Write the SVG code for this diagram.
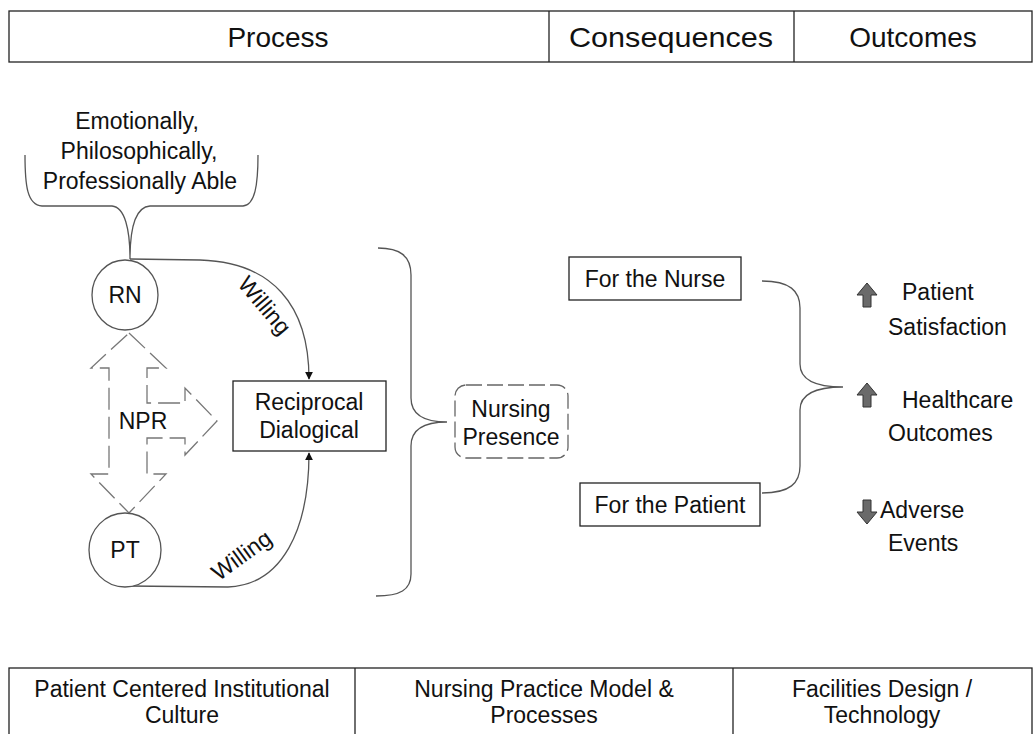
<svg xmlns="http://www.w3.org/2000/svg" width="1034" height="734" viewBox="0 0 1034 734">
<defs>
<style>
text{font-family:"Liberation Sans",Arial,sans-serif;fill:#111}
.hdr{font-size:28px;text-anchor:middle}
.bot{font-size:23px;text-anchor:middle}
.t{font-size:23px;text-anchor:middle}
.tl{font-size:23px}
.box{fill:#fff;stroke:#222;stroke-width:1.3}
.ln{fill:none;stroke:#555;stroke-width:1.3}
.circ{fill:#fff;stroke:#555;stroke-width:1.3}
.icon{fill:#6a6a6a;stroke:#333;stroke-width:1}
</style>
<marker id="ah" viewBox="0 0 10 10" refX="9" refY="5" markerWidth="8" markerHeight="8" markerUnits="userSpaceOnUse" orient="auto">
<path d="M0,0 L10,5 L0,10 z" fill="#111"/>
</marker>
</defs>
<rect width="1034" height="734" fill="#fff"/>

<g id="header">
<rect x="9" y="11" width="1023" height="51" class="box" fill="none"/>
<line x1="549" y1="11" x2="549" y2="62" stroke="#222" stroke-width="1.3"/>
<line x1="794" y1="11" x2="794" y2="62" stroke="#222" stroke-width="1.3"/>
<text class="hdr" x="278" y="47">Process</text>
<text class="hdr" x="671" y="47" textLength="204" lengthAdjust="spacingAndGlyphs">Consequences</text>
<text class="hdr" x="913" y="47">Outcomes</text>
</g>

<g id="footer">
<rect x="9" y="668" width="1023" height="70" class="box" fill="none"/>
<line x1="355" y1="668" x2="355" y2="734" stroke="#222" stroke-width="1.3"/>
<line x1="733" y1="668" x2="733" y2="734" stroke="#222" stroke-width="1.3"/>
<text class="bot" x="182" y="697">Patient Centered Institutional</text>
<text class="bot" x="182" y="723">Culture</text>
<text class="bot" x="544" y="697">Nursing Practice Model &amp;</text>
<text class="bot" x="544" y="723">Processes</text>
<text class="bot" x="882" y="697">Facilities Design /</text>
<text class="bot" x="882" y="723">Technology</text>
</g>

<g id="abilities">
<text class="t" x="137" y="129">Emotionally,</text>
<text class="t" x="139" y="159">Philosophically,</text>
<text class="t" x="140" y="189">Professionally Able</text>
<path class="ln" d="M25,155 C25,185 27,205 42,206 L112,206 C125,207 130,230 130,259 C130,230 135,207 150,206 L243,206 C255,205 258,185 258,155"/>
</g>

<g id="connectors">
<path class="ln" d="M130,259 L200,260 C272,262 309,305 309,379" marker-end="url(#ah)"/>
<path class="ln" d="M127,586 L228,587 C282,585 309,530 309,453" marker-end="url(#ah)"/>
<path class="ln" d="M378,248 C400,248 411,256 411,275 L411,398 C411,414 424,422 447,422 C424,422 411,430 411,446 L411,574 C411,590 400,596 376,596"/>
<path class="ln" d="M762,281 C790,281 800,291 800,308 L800,364 C800,379 815,387 843,387 C815,387 800,395 800,410 L800,466 C800,483 790,493 762,493"/>
<text class="tl" font-size="21" transform="translate(264,306) rotate(50)" text-anchor="middle" y="7">Willing</text>
<text class="tl" font-size="21" transform="translate(242,556) rotate(-36)" text-anchor="middle" y="7">Willing</text>
</g>

<g id="npr">
<polygon points="129,333 166,368 147,368 147,403 185,403 185,388 217,421 185,455 185,438 147,438 147,474 166,474 129,513 91,474 109,474 109,368 91,368" fill="#fff" stroke="#777" stroke-width="1.3" stroke-dasharray="22 7"/>
<text class="t" x="143" y="429">NPR</text>
</g>

<g id="rn">
<ellipse cx="125" cy="295" rx="33" ry="35" class="circ"/>
<text class="t" x="125" y="303">RN</text>
</g>

<g id="pt">
<ellipse cx="125" cy="550" rx="36" ry="37" class="circ"/>
<text class="t" x="125" y="558">PT</text>
</g>

<g id="reciprocal">
<rect x="233" y="381" width="153" height="70" class="box"/>
<text class="t" x="309" y="410">Reciprocal</text>
<text class="t" x="309" y="438">Dialogical</text>
</g>

<g id="presence">
<rect x="455" y="385" width="113" height="73" rx="11" fill="#fff" stroke="#666" stroke-width="1.3" stroke-dasharray="16 5"/>
<text class="t" x="511" y="417">Nursing</text>
<text class="t" x="511" y="445">Presence</text>
</g>

<g id="nurse">
<rect x="569" y="257" width="172" height="43" class="box"/>
<text class="t" x="655" y="287">For the Nurse</text>
</g>

<g id="patient">
<rect x="580" y="483" width="180" height="43" class="box"/>
<text class="t" x="670" y="513">For the Patient</text>
</g>

<g id="satisfaction">
<polygon class="icon" points="867,283 877,295 871,295 871,307 863,307 863,295 857,295"/>
<text class="tl" x="902" y="300">Patient</text>
<text class="tl" x="888" y="335">Satisfaction</text>
</g>

<g id="healthcare">
<polygon class="icon" points="867,383 877,395 871,395 871,407 863,407 863,395 857,395"/>
<text class="tl" x="902" y="408">Healthcare</text>
<text class="tl" x="888" y="441">Outcomes</text>
</g>

<g id="adverse">
<polygon class="icon" points="867,524 877,512 871,512 871,500 863,500 863,512 857,512"/>
<text class="tl" x="880" y="518">Adverse</text>
<text class="tl" x="888" y="551">Events</text>
</g>
</svg>
